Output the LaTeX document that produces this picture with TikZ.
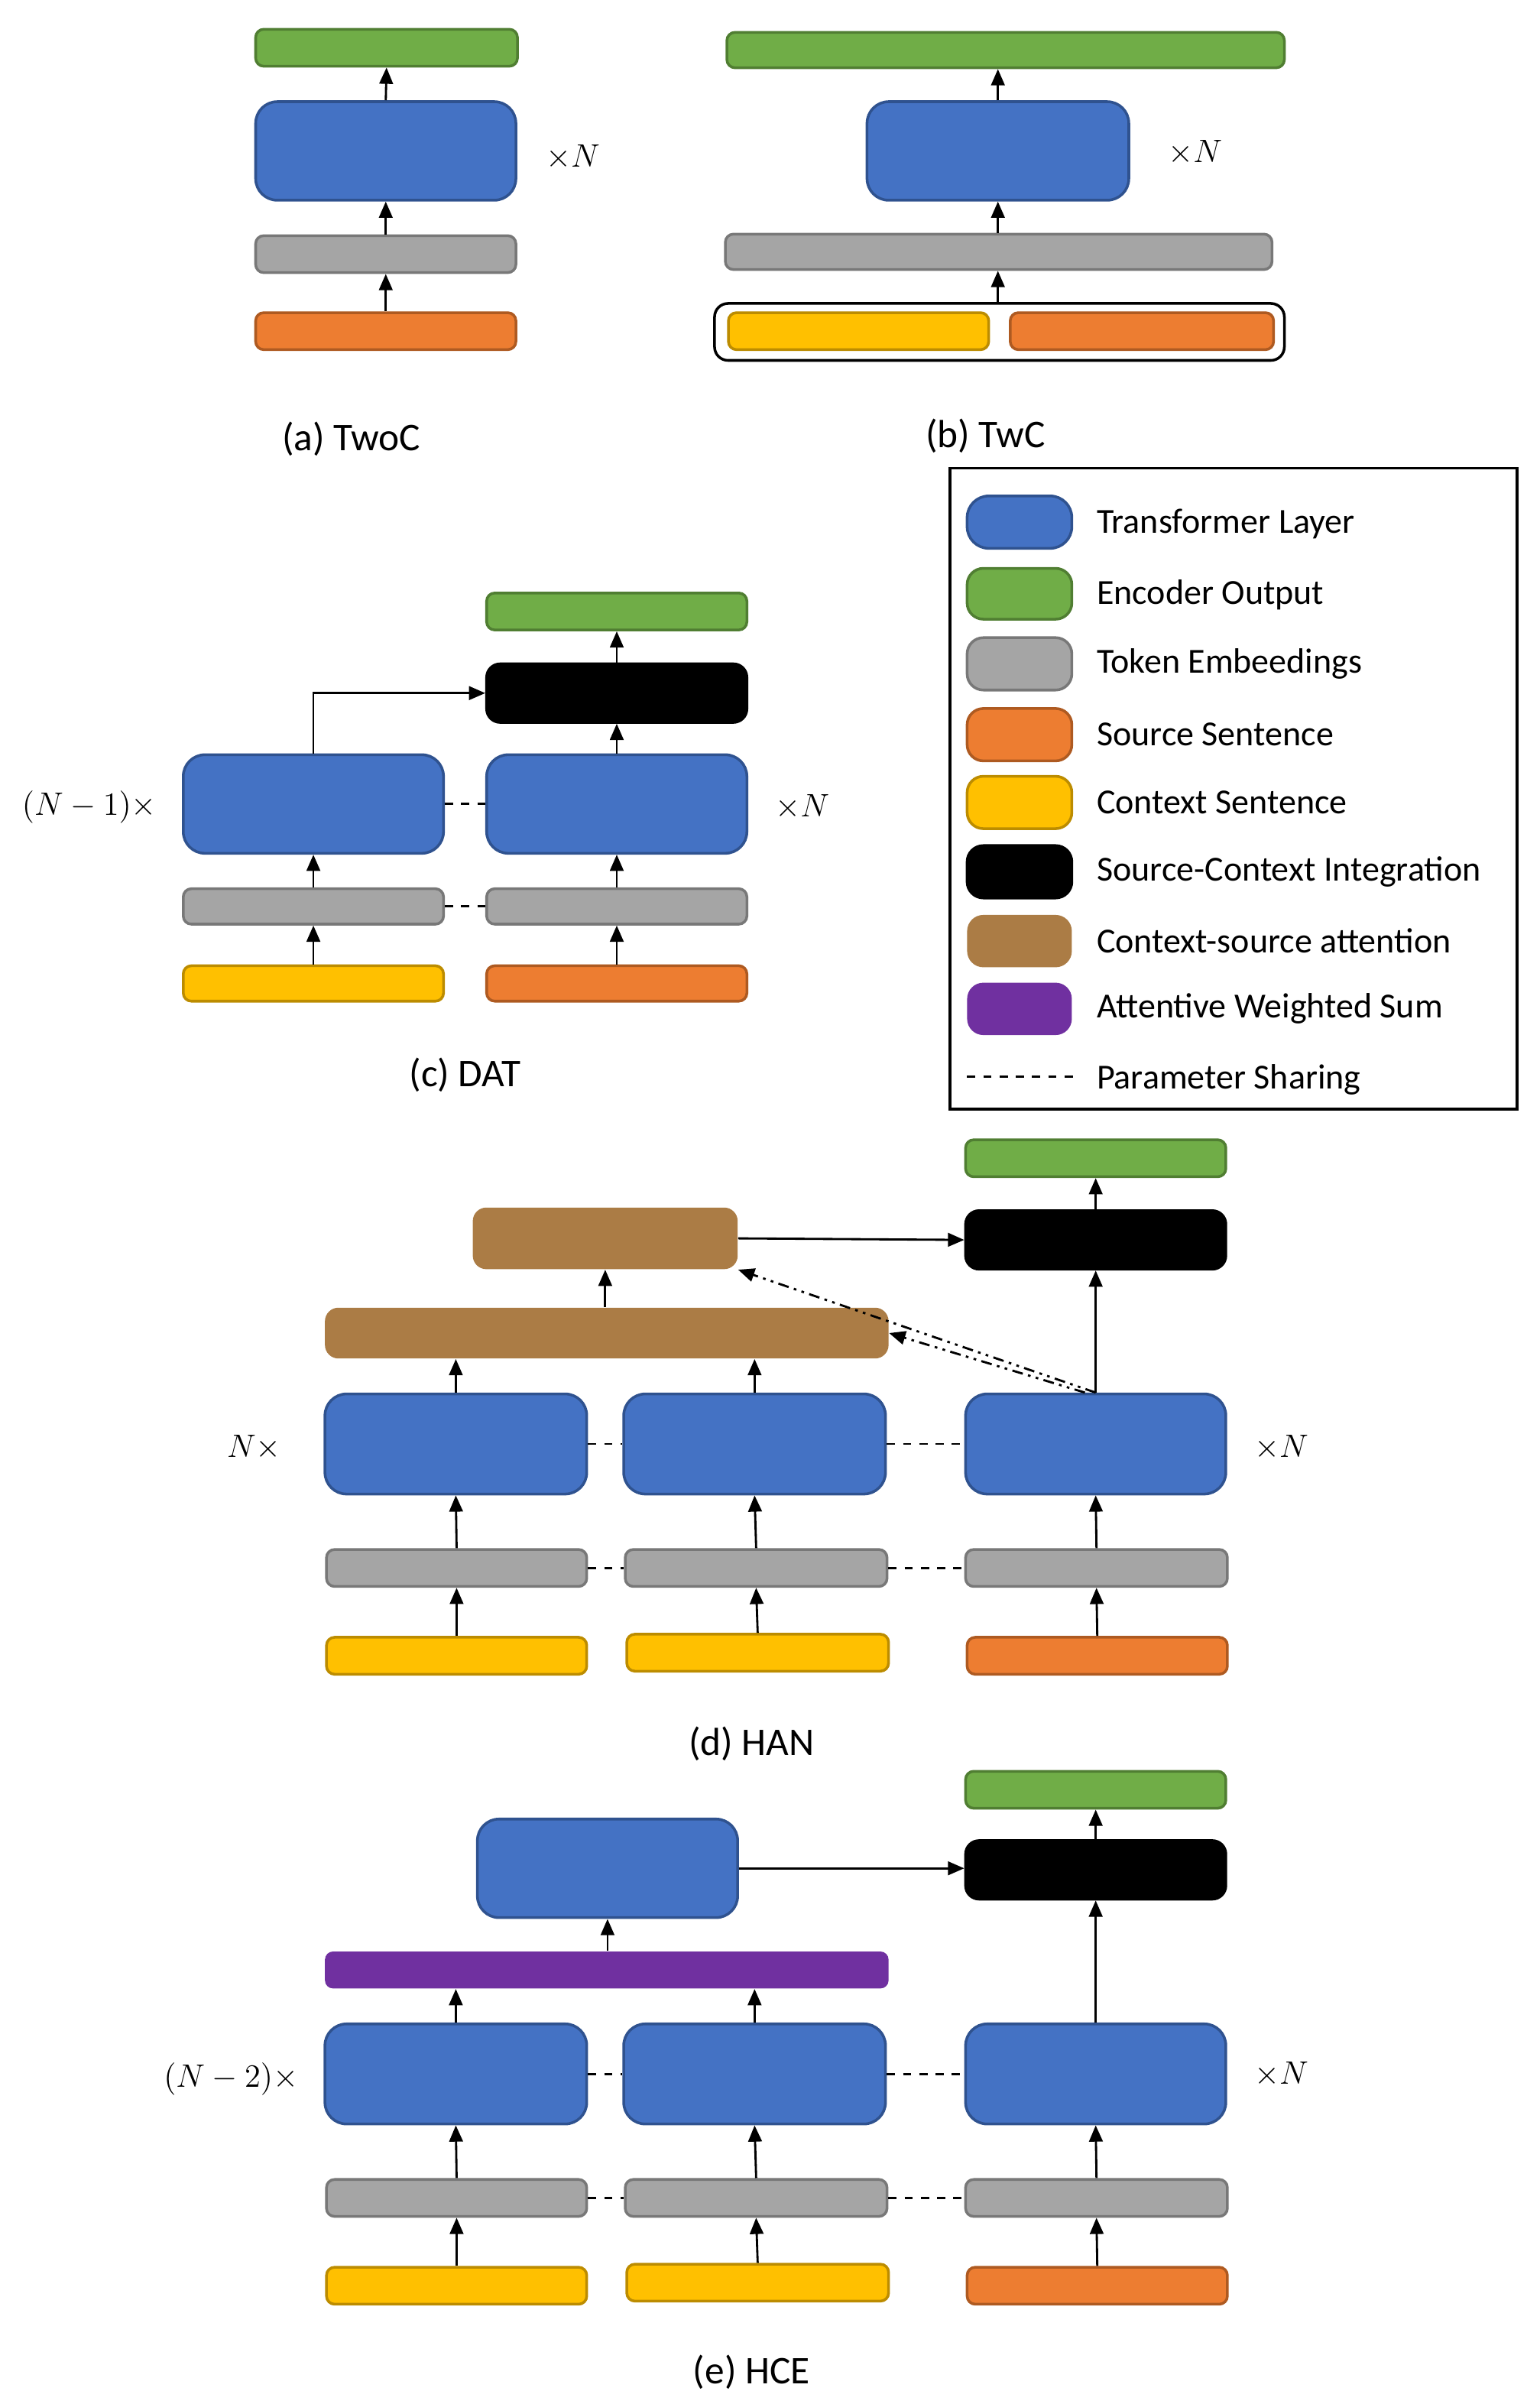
\documentclass[tikz,border=0pt]{standalone}
\usepackage{fontspec}
\setmainfont{Carlito}
\usetikzlibrary{arrows.meta}
\definecolor{cb}{HTML}{4472C4}\definecolor{cbd}{HTML}{2F528F}
\definecolor{cg}{HTML}{70AD47}\definecolor{cgd}{HTML}{507E32}
\definecolor{cy}{HTML}{A5A5A5}\definecolor{cyd}{HTML}{787878}
\definecolor{co}{HTML}{ED7D31}\definecolor{cod}{HTML}{AE5A21}
\definecolor{cw}{HTML}{FFC000}\definecolor{cwd}{HTML}{BC8C00}
\definecolor{cr}{HTML}{AB7C45}\definecolor{cp}{HTML}{7030A0}
\newcommand\bx[6]{\node[#2, inner sep=0pt, minimum width={(#5-#3)*0.02cm}, minimum height={(#6-#4)*0.02cm}] (#1) at ({(#3+#5)/2},{-(#4+#6)/2}) {};}
\begin{document}
\begin{tikzpicture}[x=0.02cm,y=0.02cm,
 bb/.style={draw=cbd,fill=cb,line width=1pt,rounded corners=8pt},
 gg/.style={draw=cgd,fill=cg,line width=1pt,rounded corners=3pt},
 yy/.style={draw=cyd,fill=cy,line width=1pt,rounded corners=3pt},
 oo/.style={draw=cod,fill=co,line width=1pt,rounded corners=3pt},
 ww/.style={draw=cwd,fill=cw,line width=1pt,rounded corners=3pt},
 kk/.style={draw=black,fill=black,line width=1pt,rounded corners=5pt},
 rr/.style={fill=cr,rounded corners=5pt},
 pp/.style={fill=cp,rounded corners=3pt},
 arr/.style={-{Triangle[length=6pt,width=5pt]},line width=0.8pt},
 sh/.style={dashed,line width=0.8pt},
 dd/.style={arr,dash pattern=on 4pt off 2pt on 1pt off 2pt on 1pt off 2pt},
 capt/.style={font=\fontsize{14.5}{16}\selectfont},
 lg/.style={font=\fontsize{13}{15}\selectfont,anchor=west},
 mt/.style={font=\fontsize{12.5}{14}\selectfont}]
\useasboundingbox (0,0) rectangle (1000,-1560.8);
% (a)
\bx{ag}{gg}{166}{19}{336}{43}
\bx{ab}{bb}{166}{66}{335}{130}
\bx{ay}{yy}{166}{153}{335}{177}
\bx{ao}{oo}{166}{203}{335}{227}
\draw[arr] (ao.north)--(ay.south); \draw[arr] (ay.north)--(ab.south); \draw[arr] (ab.north)--(ag.south);
\node[mt] (an) at (372,-102) {$\times N$};
\node[capt] (ac) at (228,-285) {(a) TwoC};
% (b)
\bx{bg}{gg}{472}{21}{834}{44}
\bx{bb}{bb}{563}{66}{733}{130}
\bx{by}{yy}{471}{152}{826}{175}
\bx{bf}{draw=black,fill=white,line width=1pt,rounded corners=5pt}{464}{197}{834}{234}
\bx{bw}{ww}{473}{203}{642}{227}
\bx{bo}{oo}{656}{203}{827}{227}
\draw[arr] (bf.north -| bb.south)--(bb.south |- by.south); \draw[arr] (by.north -| bb.south)--(bb.south); \draw[arr] (bb.north)--(bb.north |- bg.south);
\node[mt] (bn) at (776,-99) {$\times N$};
\node[capt] (bc) at (640,-283) {(b) TwC};
% legend
\bx{L}{draw=black,line width=1pt}{617}{304}{985}{720}
\bx{l1}{bb}{628}{322}{696}{356}\node[lg] (t1) at (706,-340) {Transformer Layer};
\bx{l2}{gg,rounded corners=6pt}{628}{369}{696}{402}\node[lg] (t2) at (706,-386) {Encoder Output};
\bx{l3}{yy,rounded corners=6pt}{628}{414}{696}{448}\node[lg] (t3) at (706,-431) {Token Embeedings};
\bx{l4}{oo,rounded corners=6pt}{628}{460}{696}{494}\node[lg] (t4) at (706,-477) {Source Sentence};
\bx{l5}{ww,rounded corners=6pt}{628}{504}{696}{538}\node[lg] (t5) at (706,-521) {Context Sentence};
\bx{l6}{kk,rounded corners=6pt}{628}{549}{696}{583}\node[lg] (t6) at (706,-566) {Source-Context Integration};
\bx{l7}{rr,rounded corners=6pt}{628}{594}{696}{628}\node[lg] (t7) at (706,-611) {Context-source attention};
\bx{l8}{pp,rounded corners=6pt}{628}{638}{696}{672}\node[lg] (t8) at (706,-655) {Attentive Weighted Sum};
\coordinate (d1) at (628,-699); \coordinate (d2) at (698,-699);
\draw[sh] (d1)--(d2); \node[lg] (t9) at (706,-701) {Parameter Sharing};
% (c)
\bx{cg}{gg}{316}{385}{485}{409}
\bx{ck}{kk}{316}{431}{485}{469}
\bx{cb1}{bb}{119}{490}{288}{554}
\bx{cb2}{bb}{316}{490}{485}{554}
\bx{cy1}{yy}{119}{577}{288}{600}
\bx{cy2}{yy}{316}{577}{485}{600}
\bx{cw}{ww}{119}{627}{288}{650}
\bx{co}{oo}{316}{627}{485}{650}
\draw[arr] (cw.north)--(cy1.south); \draw[arr] (cy1.north)--(cb1.south);
\draw[arr] (co.north)--(cy2.south); \draw[arr] (cy2.north)--(cb2.south);
\draw[arr] (cb2.north)--(ck.south); \draw[arr] (ck.north)--(cg.south);
\draw[arr] (cb1.north) |- (ck.west);
\draw[sh] (cb1.east)--(cb2.west); \draw[sh] (cy1.east)--(cy2.west);
\node[mt] (cl) at (58,-524) {$(N-1)\times$};
\node[mt] (cn) at (521,-524) {$\times N$};
\node[capt] (cc) at (302,-698) {(c) DAT};
% (d)
\bx{dg}{gg}{627}{740}{796}{764}
\bx{dk}{kk}{627}{786}{796}{824}
\bx{ds}{rr}{307}{784}{479}{824}
\bx{dw}{rr}{211}{849}{577}{882}
\bx{db1}{bb}{211}{905}{381}{970}
\bx{db2}{bb}{405}{905}{575}{970}
\bx{db3}{bb}{627}{905}{796}{970}
\bx{dy1}{yy}{212}{1006}{381}{1030}
\bx{dy2}{yy}{406}{1006}{576}{1030}
\bx{dy3}{yy}{627}{1006}{797}{1030}
\bx{dw1}{ww}{212}{1063}{381}{1087}
\bx{dw2}{ww}{407}{1061}{577}{1085}
\bx{do}{oo}{628}{1063}{797}{1087}
\foreach \i in {1,2}{\draw[arr] (dw\i.north)--(dy\i.south);}
\foreach \i in {1,2,3}{\draw[arr] (dy\i.north)--(db\i.south);}
\draw[arr] (do.north)--(dy3.south);
\draw[arr] (db1.north)--(db1.north |- dw.south); \draw[arr] (db2.north)--(db2.north |- dw.south);
\draw[arr] (dw.north -| ds.south)--(ds.south);
\draw[arr] (db3.north)--(dk.south); \draw[arr] (dk.north)--(dg.south);
\draw[arr] (ds.east)--(dk.west);
\draw[dd] (db3.north)--(ds.south east);
\draw[dd] ([xshift=-4pt]db3.north)--(dw.east);
\draw[sh] (db1.east)--(db2.west); \draw[sh] (db2.east)--(db3.west);
\draw[sh] (dy1.east)--(dy2.west); \draw[sh] (dy2.east)--(dy3.west);
\node[mt] (dl) at (165,-940) {$N\times$};
\node[mt] (dn) at (832,-940) {$\times N$};
\node[capt] (dc) at (488,-1132) {(d) HAN};
% (e)
\bx{eg}{gg}{627}{1150}{796}{1174}
\bx{ek}{kk}{627}{1195}{796}{1233}
\bx{et}{bb}{310}{1181}{479}{1245}
\bx{ep}{pp}{211}{1267}{577}{1291}
\bx{eb1}{bb}{211}{1314}{381}{1379}
\bx{eb2}{bb}{405}{1314}{575}{1379}
\bx{eb3}{bb}{627}{1314}{796}{1379}
\bx{ey1}{yy}{212}{1415}{381}{1439}
\bx{ey2}{yy}{406}{1415}{576}{1439}
\bx{ey3}{yy}{627}{1415}{797}{1439}
\bx{ew1}{ww}{212}{1472}{381}{1496}
\bx{ew2}{ww}{407}{1470}{577}{1494}
\bx{eo}{oo}{628}{1472}{797}{1496}
\foreach \i in {1,2}{\draw[arr] (ew\i.north)--(ey\i.south);}
\foreach \i in {1,2,3}{\draw[arr] (ey\i.north)--(eb\i.south);}
\draw[arr] (eo.north)--(ey3.south);
\draw[arr] (eb1.north)--(eb1.north |- ep.south); \draw[arr] (eb2.north)--(eb2.north |- ep.south);
\draw[arr] (ep.north -| et.south)--(et.south);
\draw[arr] (eb3.north)--(ek.south); \draw[arr] (ek.north)--(eg.south);
\draw[arr] (et.east)--(et.east -| ek.west);
\draw[sh] (eb1.east)--(eb2.west); \draw[sh] (eb2.east)--(eb3.west);
\draw[sh] (ey1.east)--(ey2.west); \draw[sh] (ey2.east)--(ey3.west);
\node[mt] (el) at (150,-1350) {$(N-2)\times$};
\node[mt] (en) at (832,-1347) {$\times N$};
\node[capt] (ec) at (488,-1540) {(e) HCE};
\end{tikzpicture}
\end{document}
